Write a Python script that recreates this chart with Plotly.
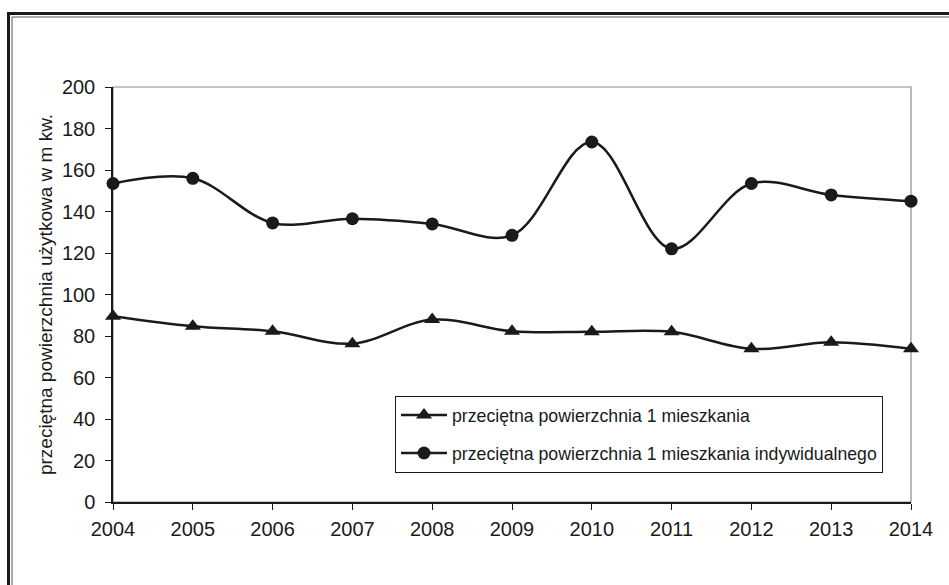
import plotly.graph_objects as go

# lata
years = [2004, 2005, 2006, 2007, 2008, 2009, 2010, 2011, 2012, 2013, 2014]
# przeciętna powierzchnia 1 mieszkania (m kw.)
avg_flat = [89.5, 84.7, 82.3, 76.3, 87.9, 82.3, 82.0, 82.0, 73.8, 77.0, 73.8]
# przeciętna powierzchnia 1 mieszkania indywidualnego (m kw.)
avg_individual = [153.5, 156.0, 134.5, 136.5, 134.0, 128.5, 173.5, 122.0, 153.5, 148.0, 145.0]

y_ticks = list(range(0, 201, 20))

FONT = "Liberation Sans, Arial, sans-serif"
INK = "#1a1a1a"

W, H = 949, 585
L, R, T, B = 113, 911, 87, 502  # obszar wykresu w pikselach


def px_x(p):
    return (p - L) / (R - L)


def px_y(p):
    return (B - p) / (B - T)


fig = go.Figure()
fig.add_trace(go.Scatter(
    x=years, y=avg_flat, name="przeciętna powierzchnia 1 mieszkania",
    mode="lines+markers", line=dict(color=INK, width=2.5, shape="spline", smoothing=1),
    marker=dict(symbol="triangle-up", size=14, color=INK),
    cliponaxis=False, legendgroup="a",
))
fig.add_trace(go.Scatter(
    x=years, y=avg_individual, name="przeciętna powierzchnia 1 mieszkania indywidualnego",
    mode="lines+markers", line=dict(color=INK, width=2.5, shape="spline", smoothing=1),
    marker=dict(symbol="circle", size=13, color=INK),
    cliponaxis=False, legendgroup="b",
))

axis_common = dict(showgrid=False, zeroline=False, showline=True, linecolor=INK, linewidth=1.5,
                   tickcolor=INK, tickwidth=1.2, ticklen=6)

fig.update_layout(
    width=W, height=H,
    margin=dict(l=L, r=W - R, t=T, b=H - B),
    paper_bgcolor="white", plot_bgcolor="white",
    font=dict(family=FONT, color=INK, size=20),
    showlegend=True,
    legend=dict(
        x=px_x(395), y=px_y(396), xanchor="left", yanchor="top",
        bordercolor=INK, borderwidth=1, bgcolor="white",
        font=dict(size=17.7, family=FONT, color=INK),
        traceorder="grouped", tracegroupgap=12, itemwidth=46,
    ),
    xaxis=dict(range=[2004, 2014], tickmode="array", tickvals=years,
               ticktext=[str(y) for y in years], ticks="outside", ticklabelstandoff=2,
               **axis_common),
    yaxis=dict(range=[0, 200], tickmode="array", tickvals=y_ticks, ticks="outside",
               ticklabelstandoff=6,
               title=dict(text="przeciętna powierzchnia użytkowa w m kw.",
                          font=dict(size=19, family=FONT, color=INK), standoff=4),
               **axis_common),
    # druga warstwa osi – kreski wewnątrz (przecinające oś)
    xaxis2=dict(overlaying="x", range=[2004, 2014], tickmode="array", tickvals=years,
                showticklabels=False, ticks="inside", showgrid=False, zeroline=False,
                showline=False, tickcolor=INK, tickwidth=1.2, ticklen=6, side="bottom"),
    yaxis2=dict(overlaying="y", range=[0, 200], tickmode="array", tickvals=y_ticks,
                showticklabels=False, ticks="inside", showgrid=False, zeroline=False,
                showline=False, tickcolor=INK, tickwidth=1.2, ticklen=6, side="left"),
    shapes=[
        # szara ramka obszaru wykresu
        dict(type="rect", xref="paper", yref="paper", x0=0, x1=1, y0=0, y1=1,
             line=dict(color="#8c8c8c", width=1.2), layer="below"),
        # podwójna ramka całego rysunku
        dict(type="rect", xref="paper", yref="paper",
             x0=px_x(8.5), x1=px_x(990), y0=px_y(13.5), y1=px_y(640),
             line=dict(color=INK, width=3)),
        dict(type="rect", xref="paper", yref="paper",
             x0=px_x(12), x1=px_x(990), y0=px_y(17), y1=px_y(640),
             line=dict(color="#555555", width=1)),
    ],
)

# bez marginesu strony, pasków przewijania i paska narzędzi
fig.write_html("out.html", config={"displayModeBar": False}, post_script=(
    "document.body.style.margin='0';"
    "document.documentElement.style.overflow='hidden';"
    "document.body.style.overflow='hidden';"
))
